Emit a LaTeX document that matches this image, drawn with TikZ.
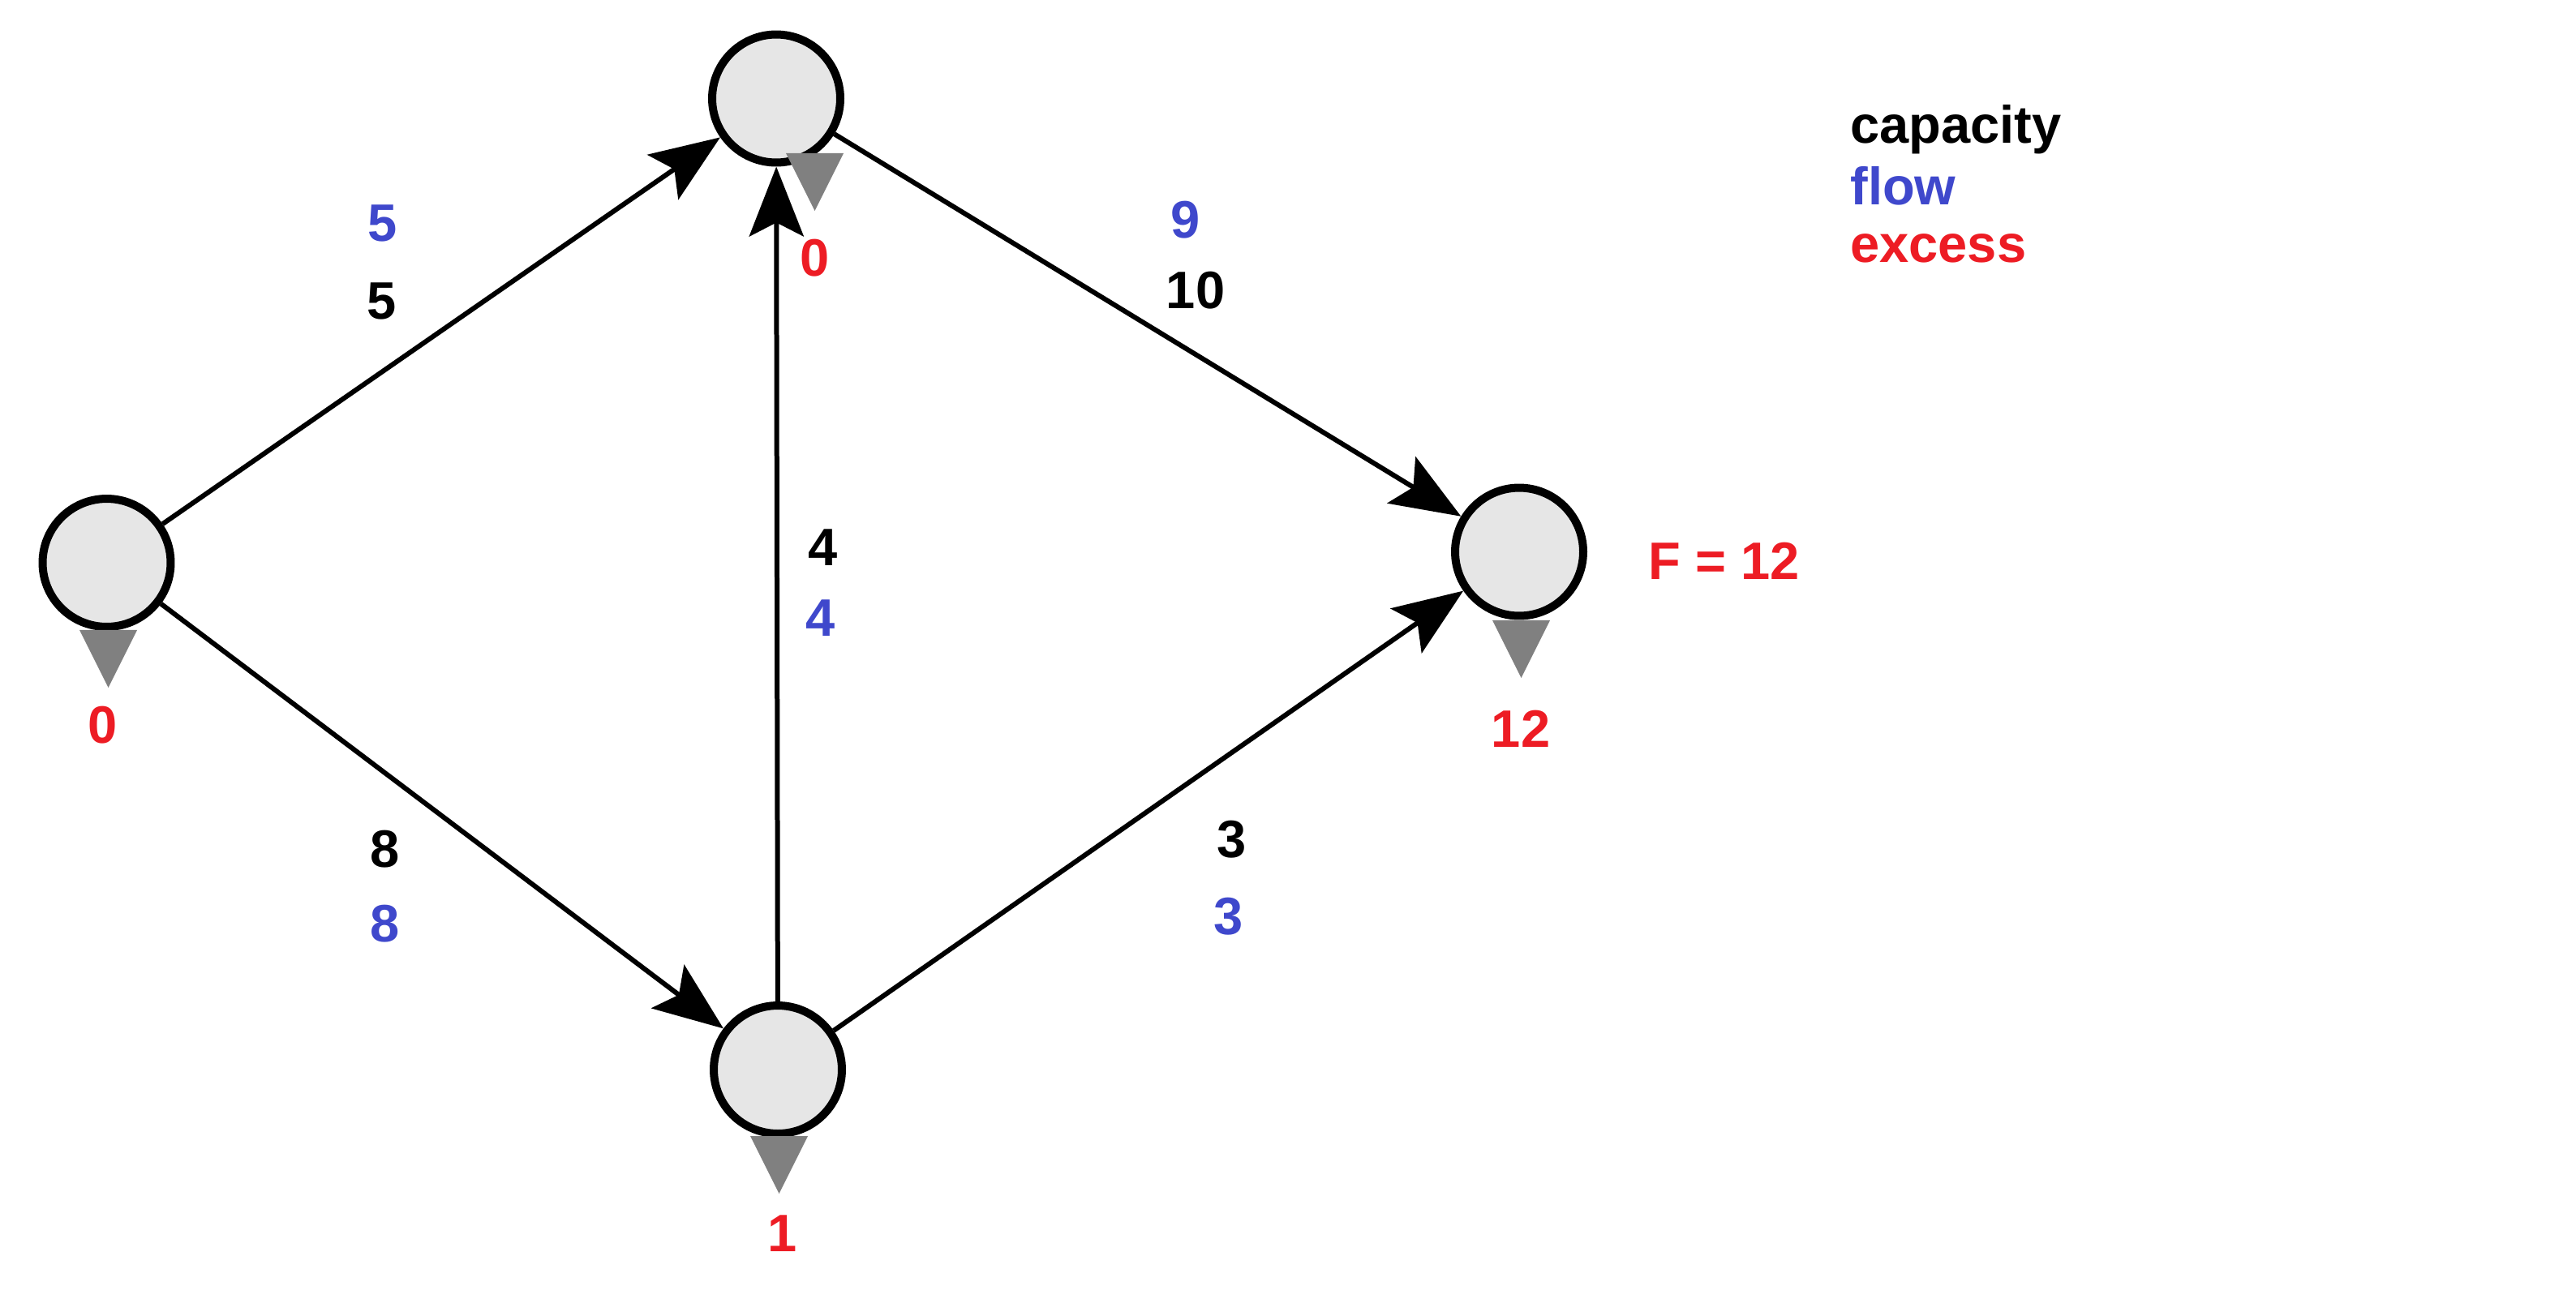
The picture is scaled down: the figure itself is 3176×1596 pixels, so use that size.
\documentclass[tikz,border=0pt]{standalone}
\usepackage{fontspec}
\setmainfont{Liberation Sans}
\usetikzlibrary{arrows.meta,calc}
\definecolor{flowc}{HTML}{3F48CC}
\definecolor{excc}{HTML}{ED1C24}
\definecolor{nodefill}{HTML}{E6E6E6}
\definecolor{trigray}{HTML}{808080}
\begin{document}
\begin{tikzpicture}[x=0.02cm,y=-0.02cm,
  vertex/.style={circle,draw=black,line width=0.2cm,fill=nodefill,minimum size=3.16cm,inner sep=0},
  edge/.style={line width=0.12cm,-{Stealth[length=1.72cm,width=1.34cm,inset=0.34cm]}},
  lbl/.style={font=\fontsize{37}{44}\selectfont\bfseries,inner sep=0},
  captext/.style={lbl,text=black},
  flowtext/.style={lbl,text=flowc},
  exctext/.style={lbl,text=excc},
  tri/.style={fill=trigray}]
\useasboundingbox (0,0) rectangle (3176,1596);
% vertices
\node[vertex] (L) at (131.5,694) {};
\node[vertex] (T) at (957,121.5) {};
\node[vertex] (B) at (959,1319) {};
\node[vertex] (R) at (1873,680.5) {};
% edges
\draw[edge] (L) -- (T);
\draw[edge] (L) -- (B);
\draw[edge] (B) -- (T);
\draw[edge] (T) -- (R);
\draw[edge] (B) -- (R);
% triangles
\fill[tri] ($(L.south)+(-33.5,-1)$) -- ++(71,0) -- ++(-35.5,71) -- cycle;
\fill[tri] ($(T.south)+(12,-16.5)$) -- ++(71,0) -- ++(-35.5,71) -- cycle;
\fill[tri] ($(B.south)+(-34,-2)$) -- ++(71,0) -- ++(-35.5,71) -- cycle;
\fill[tri] ($(R.south)+(-33,0.5)$) -- ++(71,0) -- ++(-35.5,71) -- cycle;
% excess labels
\node[exctext] (eL) at (127,894.5) {0};
\node[exctext] (eT) at (1005,318) {0};
\node[exctext] (eB) at (965,1521.5) {1};
\node[exctext] (eR) at (1875,899) {12};
\node[exctext] (F) at (2126,691.5) {F = 12};
% edge labels
\node[flowtext] (fLT) at (471.5,275) {5};
\node[captext] (cLT) at (471,371) {5};
\node[flowtext] (fTR) at (1462,271) {9};
\node[captext] (cTR) at (1474,358) {10};
\node[captext] (cBT) at (1015,675) {4};
\node[flowtext] (fBT) at (1012,762) {4};
\node[captext] (cLB) at (475,1047) {8};
\node[flowtext] (fLB) at (475,1139) {8};
\node[captext] (cBR) at (1519,1035) {3};
\node[flowtext] (fBR) at (1515,1130) {3};
% legend
\node[captext,anchor=base west] (lg1) at (2281,176) {capacity};
\node[flowtext,anchor=base west] (lg2) at (2281,252) {flow};
\node[exctext,anchor=base west] (lg3) at (2281,323) {excess};
\end{tikzpicture}
\end{document}
